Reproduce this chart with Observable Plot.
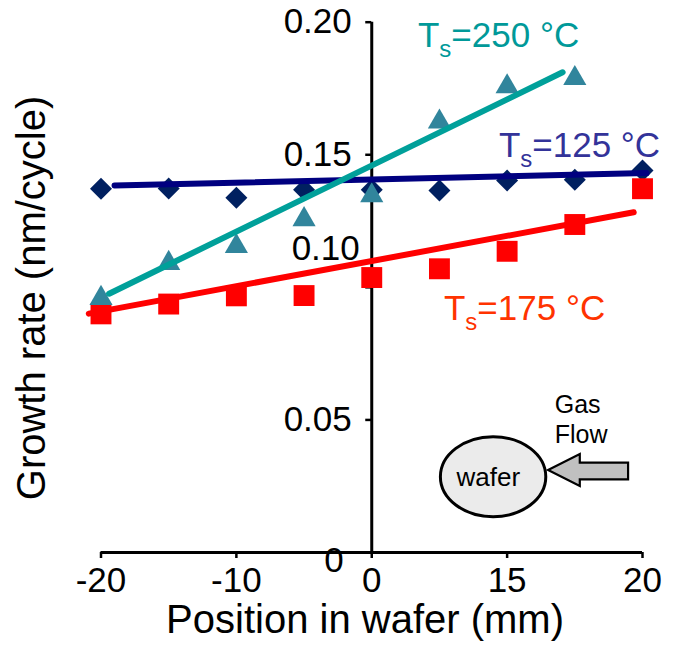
<!DOCTYPE html>
<html><head><meta charset="utf-8">
<script src="https://cdn.jsdelivr.net/npm/d3@7"></script>
<script src="https://cdn.jsdelivr.net/npm/@observablehq/plot@0.6"></script>
<style>html,body{margin:0;padding:0;background:#fff;overflow:hidden} svg{display:block}</style>
</head><body><div id="chart"></div>
<script>
// ---- data ----
const positions = [-20, -15, -10, -5, 0, 5, 10, 15, 20];
const rate125 = [0.1372, 0.1373, 0.1338, 0.1368, 0.1368, 0.1365, 0.1403, 0.1406, 0.1441];
const positions250 = [-20, -15, -10, -5, 0, 5, 10, 15];
const rate250 = [0.0959, 0.1091, 0.1155, 0.1256, 0.1346, 0.1624, 0.1757, 0.1788];
const rate175 = [0.0900, 0.0937, 0.0968, 0.0969, 0.1037, 0.1070, 0.1136, 0.1237, 0.1372];
// fitted trend lines (end points)
const fitX125 = [-19.0, 20.3], fitY125 = [0.1384, 0.1431];
const fitX250 = [-19.4, 14.1], fitY250 = [0.0976, 0.1811];
const fitX175 = [-20.9, 19.35], fitY175 = [0.0901, 0.1283];
// axis ticks as printed
const xTickValues = [-20, -10, 0, 10, 20];
const xTickLabels = ["-20", "-10", "0", "15", "20"];
const yTickValues = [0, 0.05, 0.10, 0.15, 0.20];
const yTickLabels = ["0", "0.05", "0.10", "0.15", "0.20"];
// series annotations
const seriesTemps = ["250", "125", "175"];
const seriesLabelX = [3.45, 9.43, 5.37];
const seriesLabelY = [0.1906, 0.1491, 0.0875];
const seriesLabelColors = ["#009999", "#333399", "#ff3300"];
// inset anchor (centre of wafer sketch)
const insetX = 9.0, insetY = 0.0284;

const font = "'Liberation Sans', Arial, Helvetica, sans-serif";
const xLabelMap = new Map(xTickValues.map((v, i) => [v, xTickLabels[i]]));
const yLabelMap = new Map(yTickValues.map((v, i) => [v, yTickLabels[i]]));
const pts125 = positions.map((x, i) => ({x, y: rate125[i]}));
const pts250 = positions250.map((x, i) => ({x, y: rate250[i]}));
const pts175 = positions.map((x, i) => ({x, y: rate175[i]}));
const fit = (xs, ys) => xs.map((x, i) => ({x, y: ys[i]}));

const plot = Plot.plot({
  width: 683, height: 648,
  marginLeft: 100.5, marginRight: 41, marginTop: 21.7, marginBottom: 96,
  x: {domain: [-20, 20]},
  y: {domain: [0, 0.2], axis: null},
  style: {fontFamily: font, background: "#fff", color: "#000", overflow: "visible"},
  marks: [
    Plot.ruleY([0], {x1: -20, x2: 20, stroke: "#000", strokeWidth: 3}),
    Plot.ruleX([0], {y1: 0, y2: 0.2, stroke: "#000", strokeWidth: 3}),
    Plot.axisX({ticks: xTickValues, tickFormat: d => xLabelMap.get(d), tickSize: 6, tickPadding: 9,
      fontSize: 35, strokeWidth: 2.5, label: null}),
    Plot.ruleY(yTickValues, {y: d => d, x1: 0, x2: 0, insetLeft: -6, stroke: "#000", strokeWidth: 2.5}),
    Plot.text(yTickValues.filter(v => v !== 0.10 && v !== 0), {x: 0, y: d => d, text: d => yLabelMap.get(d),
      textAnchor: "end", dx: -20, fontSize: 35, fill: "#000"}),
    Plot.text([0], {x: 0, y: d => d, text: d => yLabelMap.get(d),
      textAnchor: "end", dx: -28, dy: 8, fontSize: 35, fill: "#000"}),
    Plot.text([0.10], {x: 0, y: d => d, text: d => yLabelMap.get(d),
      textAnchor: "end", dx: -12, dy: -39, fontSize: 35, fill: "#000"}),
    Plot.text(["Growth rate (nm/cycle)"], {frameAnchor: "left", textAnchor: "middle", lineAnchor: "middle",
      rotate: -90, dx: -69, dy: 10.6, fontSize: 40, fill: "#000"}),
    Plot.text(["Position in wafer (mm)"], {frameAnchor: "bottom", textAnchor: "middle", lineAnchor: "middle",
      dx: -6.7, dy: 68, fontSize: 40, fill: "#000"}),
    Plot.dot(pts125, {x: "x", y: "y", symbol: "diamond2", r: 9.9, fill: "#002060", stroke: "none"}),
    Plot.dot(pts175, {x: "x", y: "y", symbol: "square", r: 11.8, fill: "#ff0000", stroke: "none"}),
    Plot.dot(pts250, {x: "x", y: "y", symbol: "triangle", r: 8.6, fill: "#31859c", stroke: "none"}),
    Plot.line(fit(fitX175, fitY175), {x: "x", y: "y", stroke: "#ff0000", strokeWidth: 6}),
    Plot.line(fit(fitX125, fitY125), {x: "x", y: "y", stroke: "#000080", strokeWidth: 6}),
    Plot.line(fit(fitX250, fitY250), {x: "x", y: "y", stroke: "#00a09a", strokeWidth: 6})
  ]
});

document.getElementById("chart").appendChild(plot);
const sx = plot.scale("x"), sy = plot.scale("y");
const svg = d3.select(plot);

// series labels with subscript
seriesTemps.forEach((t, i) => {
  const txt = svg.append("text")
    .attr("x", sx.apply(seriesLabelX[i])).attr("y", sy.apply(seriesLabelY[i]))
    .attr("text-anchor", "start")
    .attr("fill", seriesLabelColors[i])
    .style("font-family", font).style("font-size", "35px");
  txt.append("tspan").text("T");
  txt.append("tspan").attr("dy", 10).style("font-size", "24px").text("s");
  txt.append("tspan").attr("dy", -10).text("=" + t + " \u00B0C");
});

// wafer / gas-flow inset
const cx = sx.apply(insetX), cy = sy.apply(insetY);
const g = svg.append("g").attr("transform", `translate(${cx},${cy})`)
  .style("font-family", font).attr("text-anchor", "start");
g.append("ellipse").attr("rx", 52.7).attr("ry", 40).attr("fill", "#ebebeb").attr("stroke", "#000").attr("stroke-width", 3);
g.append("text").attr("x", -36.6).attr("y", 9.5).attr("font-size", 26).attr("fill", "#000").text("wafer");
const arrow = [[55, -6.7], [86.7, -22.7], [86.7, -14], [135, -14], [135, 2.6], [86.7, 2.6], [86.7, 9.3]];
g.append("polygon").attr("points", arrow.map(p => p.join(",")).join(" "))
  .attr("fill", "#c0c0c0").attr("stroke", "#000").attr("stroke-width", 2.2).attr("stroke-linejoin", "miter");
g.append("text").attr("x", 61.7).attr("y", -63.5).attr("font-size", 25).attr("fill", "#000").text("Gas");
g.append("text").attr("x", 61.7).attr("y", -33.5).attr("font-size", 25).attr("fill", "#000").text("Flow");
</script>
</body></html>
